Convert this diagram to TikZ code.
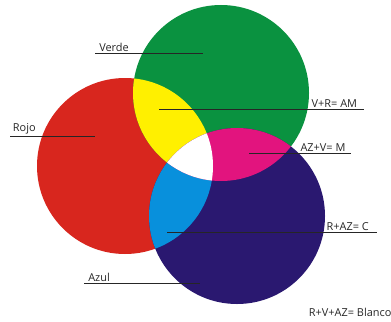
\documentclass[tikz,border=0pt]{standalone}
\usepackage{fontspec}
\setmainfont{Open Sans}
\usepackage{xcolor}
\usetikzlibrary{positioning}
\definecolor{verde}{RGB}{10,146,64}
\definecolor{rojo}{RGB}{216,38,30}
\definecolor{azul}{RGB}{42,24,112}
\definecolor{amarillo}{RGB}{255,240,0}
\definecolor{magenta}{RGB}{226,20,126}
\definecolor{cian}{RGB}{8,144,220}
\tikzstyle{lbl} = [font=\fontsize{8.2}{10}\selectfont, text=black!85, inner sep=1pt]
\tikzstyle{leader} = [draw=black!85, line width=0.75pt]

\begin{document}
\begin{tikzpicture}[x=0.75pt, y=-0.75pt]
    \useasboundingbox (0,0) rectangle (391,321);

    % === CIRCLES ===
    \def\circRojo{(125,166) circle (88)}
    \def\circVerde{(221,93) circle (88)}
    \def\circAzul{(237,216) circle (88)}

    \fill[rojo] \circRojo;
    \fill[verde] \circVerde;
    \fill[azul] \circAzul;

    % pairwise mixes
    \begin{scope}
        \clip \circRojo;
        \fill[amarillo] \circVerde;
        \fill[cian] \circAzul;
    \end{scope}
    \begin{scope}
        \clip \circVerde;
        \fill[magenta] \circAzul;
        \clip \circAzul;
        \fill[white] \circRojo;
    \end{scope}

    % === LEADER LINES ===
    \coordinate (verdeA) at (95,53);   \coordinate (verdeB) at (203,53);
    \coordinate (rojoA) at (10,136);   \coordinate (rojoB) at (95,136);
    \coordinate (amA) at (159,109);    \coordinate (amB) at (364,109);
    \coordinate (mA) at (249,153);     \coordinate (mB) at (351,153);
    \coordinate (cA) at (167,232);     \coordinate (cB) at (377,232);
    \coordinate (azulA) at (84,283);   \coordinate (azulB) at (200,283);

    \draw[leader] (verdeA) -- (verdeB);
    \draw[leader] (rojoA) -- (rojoB);
    \draw[leader] (amA) -- (amB);
    \draw[leader] (mA) -- (mB);
    \draw[leader] (cA) -- (cB);
    \draw[leader] (azulA) -- (azulB);

    % === LABELS ===
    \node (verde) [lbl, above right=0pt and 2pt of verdeA] {Verde};
    \node (rojo) [lbl, above right=0pt and 1pt of rojoA] {Rojo};
    \node (am) [lbl, above left=0pt and 4pt of amB] {V+R= AM};
    \node (m) [lbl, above left=0pt and 3pt of mB] {AZ+V= M};
    \node (c) [lbl, above left=0pt and 5pt of cB] {R+AZ= C};
    \node (azul) [lbl, above right=0pt and 2pt of azulA] {Azul};
    \node (blanco) [lbl, anchor=base east] at (393,316) {R+V+AZ= Blanco};

\end{tikzpicture}
\end{document}
